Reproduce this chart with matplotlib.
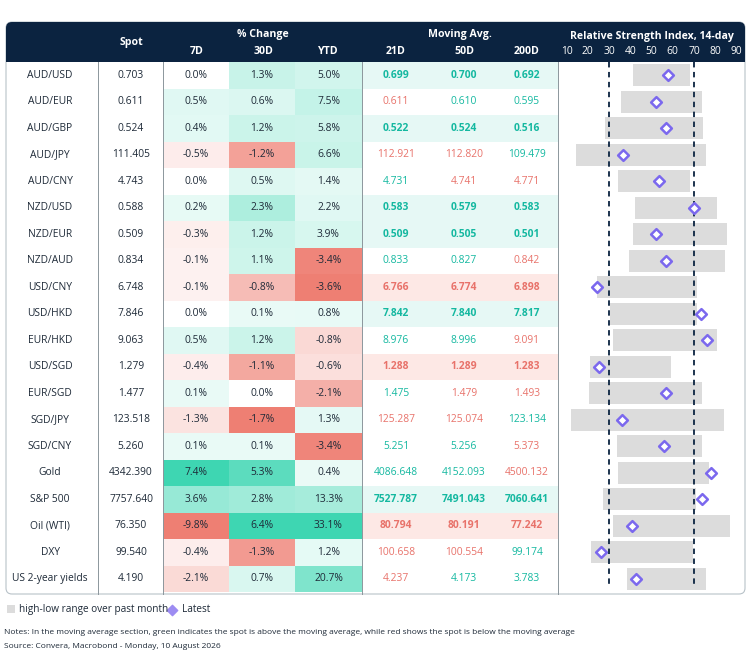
import numpy as np
import matplotlib.pyplot as plt
from matplotlib.patches import Rectangle, FancyBboxPatch
from matplotlib.colors import to_rgb

plt.rcParams['font.family'] = ['Open Sans', 'DejaVu Sans']

names = ["AUD/USD", "AUD/EUR", "AUD/GBP", "AUD/JPY", "AUD/CNY", "NZD/USD", "NZD/EUR",
         "NZD/AUD", "USD/CNY", "USD/HKD", "EUR/HKD", "USD/SGD", "EUR/SGD", "SGD/JPY",
         "SGD/CNY", "Gold", "S&P 500", "Oil (WTI)", "DXY", "US 2-year yields"]
spot = [0.703, 0.611, 0.524, 111.405, 4.743, 0.588, 0.509, 0.834, 6.748, 7.846, 9.063,
        1.279, 1.477, 123.518, 5.260, 4342.390, 7757.640, 76.350, 99.540, 4.190]
chg_7d = [0.0, 0.5, 0.4, -0.5, 0.0, 0.2, -0.3, -0.1, -0.1, 0.0, 0.5, -0.4, 0.1, -1.3, 0.1,
          7.4, 3.6, -9.8, -0.4, -2.1]
chg_30d = [1.3, 0.6, 1.2, -1.2, 0.5, 2.3, 1.2, 1.1, -0.8, 0.1, 1.2, -1.1, 0.0, -1.7, 0.1,
           5.3, 2.8, 6.4, -1.3, 0.7]
chg_ytd = [5.0, 7.5, 5.8, 6.6, 1.4, 2.2, 3.9, -3.4, -3.6, 0.8, -0.8, -0.6, -2.1, 1.3, -3.4,
           0.4, 13.3, 33.1, 1.2, 20.7]
ma21 = [0.699, 0.611, 0.522, 112.921, 4.731, 0.583, 0.509, 0.833, 6.766, 7.842, 8.976,
        1.288, 1.475, 125.287, 5.251, 4086.648, 7527.787, 80.794, 100.658, 4.237]
ma50 = [0.700, 0.610, 0.524, 112.820, 4.741, 0.579, 0.505, 0.827, 6.774, 7.840, 8.996,
        1.289, 1.479, 125.074, 5.256, 4152.093, 7491.043, 80.191, 100.554, 4.173]
ma200 = [0.692, 0.595, 0.516, 109.479, 4.771, 0.583, 0.501, 0.842, 6.898, 7.817, 9.091,
         1.283, 1.493, 123.134, 5.373, 4500.132, 7060.641, 77.242, 99.174, 3.783]
# g = spot above the moving average, r = below (21D, 50D, 200D)
ma_flags = ["ggg", "rgg", "ggg", "rrg", "grr", "ggg", "ggg", "ggr", "rrr", "ggg",
            "ggr", "rrr", "grr", "rrg", "ggr", "ggr", "ggg", "rrr", "rrg", "rgg"]
rsi_low = [41.3, 35.5, 28.3, 14.6, 34.2, 42.2, 41.4, 39.4, 24.2, 30.5,
           31.7, 21.1, 20.6, 12.1, 33.6, 34.1, 27.3, 32.0, 21.5, 38.6]
rsi_high = [68.1, 73.8, 74.2, 75.5, 68.1, 80.7, 85.7, 84.6, 71.3, 71.3,
            80.9, 59.2, 73.6, 84.1, 73.6, 77.2, 71.0, 87.0, 69.7, 75.6]
rsi_last = [57.6, 52.1, 56.8, 36.6, 53.5, 70.0, 52.1, 56.8, 24.2, 73.3,
            76.3, 25.3, 57.0, 36.0, 56.0, 77.9, 73.9, 40.7, 26.1, 42.7]
rsi_ticks = [10, 20, 30, 40, 50, 60, 70, 80, 90]

NAVY = "#0b2340"
TEAL_TXT = "#14b8a0"
RED_TXT = "#e8726a"
TEAL = np.array(to_rgb("#3ed6b2"))
RED = np.array(to_rgb("#ee7f73"))
WHITE = np.ones(3)

W, H = 746, 653
fig = plt.figure(figsize=(W / 100, H / 100), dpi=100)
ax = fig.add_axes([0, 0, 1, 1])
ax.set_xlim(0, W)
ax.set_ylim(H, 0)
ax.axis("off")

top, head_h, rh = 22, 40, 26.5
y0 = top + head_h
n = len(names)
bottom = y0 + rh * n + 2
fs = 7.4

# frame and header
ax.add_patch(FancyBboxPatch((6, top), 739, bottom - top, boxstyle="round,pad=0,rounding_size=6",
                            fc="white", ec="#b8c2c8", lw=0.8))
ax.add_patch(FancyBboxPatch((6, top), 739, head_h, boxstyle="round,pad=0,rounding_size=6",
                            fc=NAVY, ec=NAVY, lw=0))
ax.add_patch(Rectangle((6, top + head_h - 8), 739, 8, fc=NAVY, ec="none"))

hdr = dict(color="white", fontsize=7.6, fontweight="bold", ha="center", va="center")
ax.text(131, 43, "Spot", **hdr)
ax.text(263, 34, "% Change", **hdr)
ax.text(460, 34, "Moving Avg.", **hdr)
for x, t in [(197, "7D"), (263, "30D"), (328, "YTD"), (396, "21D"), (464, "50D"), (527, "200D")]:
    ax.text(x, 51, t, **hdr)
ax.text(652, 36, "Relative Strength Index, 14-day", **hdr)

# column separators
for x in [98, 163, 362, 558]:
    ax.plot([x, x], [y0, bottom], color="#8c969c", lw=0.7)


def heat(v, col):
    pos = max(c for c in col if c > 0)
    neg = min(c for c in col if c < 0)
    if v > 0:
        f, base = min(1, v / pos), TEAL
    elif v < 0:
        f, base = min(1, v / neg), RED
    else:
        return None
    f = 0.1 + 0.9 * f
    return WHITE * (1 - f) + base * f


chg_cols = [(163, 229, chg_7d), (229, 295, chg_30d), (295, 362, chg_ytd)]
ma_cols = [(396, ma21), (464, ma50), (527, ma200)]

for i in range(n):
    yc = y0 + rh * i + rh / 2
    yt = y0 + rh * i
    ax.text(50, yc, names[i], fontsize=fs, ha="center", va="center", color="#1e2a38")
    ax.text(131, yc, f"{spot[i]:.3f}", fontsize=fs, ha="center", va="center", color="#1e2a38")
    for x1, x2, col in chg_cols:
        c = heat(col[i], col)
        if c is not None:
            ax.add_patch(Rectangle((x1, yt), x2 - x1, rh, fc=c, ec="none"))
        ax.text((x1 + x2) / 2, yc, f"{col[i]:.1f}%", fontsize=fs, ha="center", va="center",
                color="#1e2a38")
    flags = ma_flags[i]
    bold = len(set(flags)) == 1
    if bold:
        bg = "#e6f8f5" if flags[0] == "g" else "#fde8e5"
        ax.add_patch(Rectangle((362, yt), 196, rh, fc=bg, ec="none"))
    for (x, col), fl in zip(ma_cols, flags):
        ax.text(x, yc, f"{col[i]:.3f}", fontsize=fs, ha="center", va="center",
                color=TEAL_TXT if fl == "g" else RED_TXT,
                fontweight="bold" if bold else "normal")

# RSI panel
rx0, rx1 = 558, 745
rax = fig.add_axes([rx0 / W, 1 - bottom / H, (rx1 - rx0) / W, (bottom - top) / H])
rax.patch.set_alpha(0)
rax.set_xlim(6, 94)
rax.set_ylim(n - 0.5 + (bottom - y0 - rh * n) / rh, -0.5 - head_h / rh)
rax.axis("off")
yy = np.arange(n)
rax.barh(yy, np.array(rsi_high) - np.array(rsi_low), left=rsi_low, height=0.82,
         color="#dcdcdc", edgecolor="none")
for x in (30, 70):
    rax.plot([x, x], [-0.5, n - 0.7], color=NAVY, lw=1.3, ls=(0, (3, 2.5)))
rax.scatter(rsi_last, yy, marker="D", s=30, facecolor="white", edgecolor="#7b68ee", lw=1.8,
            zorder=3)
for t in rsi_ticks:
    rax.text(t, -0.5 - head_h / rh * 0.27, str(t), color="white", fontsize=7.4,
             ha="center", va="center")

# legend and notes
ax.add_patch(Rectangle((7, 605), 8, 8, fc="#dcdcdc", ec="none"))
ax.text(19, 609.5, "high-low range over past month", fontsize=7.2, va="center", color="#1e2a38")
ax.scatter([172], [609.5], marker="D", s=28, color="#9d8cf2")
ax.text(182, 609.5, "Latest", fontsize=7.2, va="center", color="#1e2a38")
ax.text(4, 633, "Notes: In the moving average section, green indicates the spot is above the moving "
        "average, while red shows the spot is below the moving average",
        fontsize=6.0, va="center", color="#1e2a38")
ax.text(4, 647, "Source: Convera, Macrobond - Monday, 10 August 2026", fontsize=6.0,
        va="center", color="#1e2a38")

fig.savefig("out.png", dpi=100)
